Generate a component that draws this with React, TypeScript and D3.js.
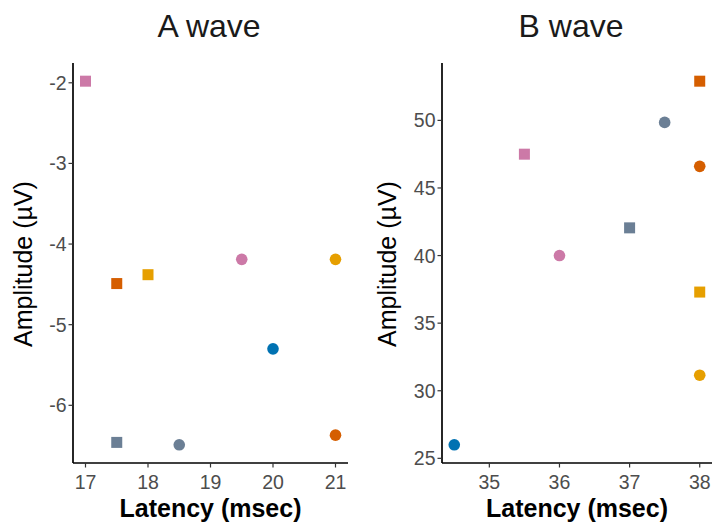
import React from "react";
import * as d3 from "d3";

// Marker colour per recording group
const groupColors: Record<string, string> = {
  pink: "#CC79A7",
  red: "#D55E00",
  gold: "#E69F00",
  blue: "#0072B2",
  slate: "#6B7F95",
};

// A wave: latency (msec), amplitude (µV), group, shape
const aLatency = [17, 17.5, 18, 19.5, 21, 20, 17.5, 18.5, 21];
const aAmplitude = [-1.98, -4.49, -4.38, -4.19, -4.19, -5.3, -6.46, -6.49, -6.37];
const aGroup = ["pink", "red", "gold", "pink", "gold", "blue", "slate", "slate", "red"];
const aShape = ["square", "square", "square", "circle", "circle", "circle", "square", "circle", "circle"];
const aXTicks = [17, 18, 19, 20, 21];
const aYTicks = [-2, -3, -4, -5, -6];

// B wave
const bLatency = [34.5, 35.5, 36, 37, 37.5, 38, 38, 38, 38];
const bAmplitude = [26, 47.5, 40, 42.05, 49.85, 52.9, 46.6, 37.3, 31.15];
const bGroup = ["blue", "pink", "pink", "slate", "slate", "red", "red", "gold", "gold"];
const bShape = ["circle", "square", "circle", "square", "circle", "square", "circle", "square", "circle"];
const bXTicks = [35, 36, 37, 38];
const bYTicks = [25, 30, 35, 40, 45, 50];

type PanelProps = {
  title: string;
  left: number;
  right: number;
  top: number;
  bottom: number;
  xs: number[];
  ys: number[];
  groups: string[];
  shapes: string[];
  xTicks: number[];
  yTicks: number[];
  titleX: number;
  yLabelX: number;
};

// 5% padding on each side of the data range
function expanded(vals: number[]): [number, number] {
  const [lo, hi] = d3.extent(vals) as [number, number];
  const pad = (hi - lo) * 0.05;
  return [lo - pad, hi + pad];
}

function Panel(p: PanelProps) {
  const x = d3.scaleLinear().domain(expanded(p.xs)).range([p.left, p.right]);
  const y = d3.scaleLinear().domain(expanded(p.ys)).range([p.bottom, p.top]);
  const tickColor = "#4D4D4D";
  const font = "Liberation Sans, Arial, sans-serif";
  const midY = (p.top + p.bottom) / 2 + 1;
  return (
    <g fontFamily={font}>
      <text x={p.titleX} y={37} textAnchor="middle" fontSize={32} fill="#1a1a1a">
        {p.title}
      </text>
      {/* axes */}
      <line x1={p.left} x2={p.left} y1={p.top} y2={p.bottom} stroke="#000" strokeWidth={1.7} />
      <line x1={p.left} x2={p.right} y1={p.bottom} y2={p.bottom} stroke="#000" strokeWidth={1.7} />
      {p.yTicks.map((t) => (
        <g key={"y" + t}>
          <line x1={p.left - 4.5} x2={p.left} y1={y(t)} y2={y(t)} stroke="#333" strokeWidth={1.2} />
          <text x={p.left - 6.5} y={y(t)} dy="0.36em" textAnchor="end" fontSize={19.5} fill={tickColor}>
            {t}
          </text>
        </g>
      ))}
      {p.xTicks.map((t) => (
        <g key={"x" + t}>
          <line x1={x(t)} x2={x(t)} y1={p.bottom} y2={p.bottom + 4.5} stroke="#333" strokeWidth={1.2} />
          <text x={x(t)} y={p.bottom + 26} textAnchor="middle" fontSize={19.5} fill={tickColor}>
            {t}
          </text>
        </g>
      ))}
      <text
        x={(p.left + p.right) / 2}
        y={p.bottom + 54}
        textAnchor="middle"
        fontSize={25}
        fontWeight="bold"
        fill="#000"
      >
        Latency (msec)
      </text>
      <text
        transform={`translate(${p.yLabelX},${midY}) rotate(-90)`}
        textAnchor="middle"
        fontSize={25}
        fill="#000"
      >
        Amplitude (µV)
      </text>
      {/* points */}
      {p.xs.map((v, i) => {
        const cx = x(v);
        const cy = y(p.ys[i]);
        const c = groupColors[p.groups[i]];
        return p.shapes[i] === "square" ? (
          <rect key={i} x={cx - 5.5} y={cy - 5.5} width={11} height={11} fill={c} />
        ) : (
          <circle key={i} cx={cx} cy={cy} r={5.8} fill={c} />
        );
      })}
    </g>
  );
}

export default function App() {
  return (
    <svg width={714} height={527} style={{ display: "block", position: "absolute", left: 0, top: 0 }}>
      <rect width={714} height={527} fill="#fff" />
      <Panel
        title="A wave"
        left={73}
        right={348}
        top={63}
        bottom={463}
        xs={aLatency}
        ys={aAmplitude}
        groups={aGroup}
        shapes={aShape}
        xTicks={aXTicks}
        yTicks={aYTicks}
        titleX={209}
        yLabelX={32}
      />
      <Panel
        title="B wave"
        left={442}
        right={712}
        top={63}
        bottom={463}
        xs={bLatency}
        ys={bAmplitude}
        groups={bGroup}
        shapes={bShape}
        xTicks={bXTicks}
        yTicks={bYTicks}
        titleX={571}
        yLabelX={396}
      />
    </svg>
  );
}
